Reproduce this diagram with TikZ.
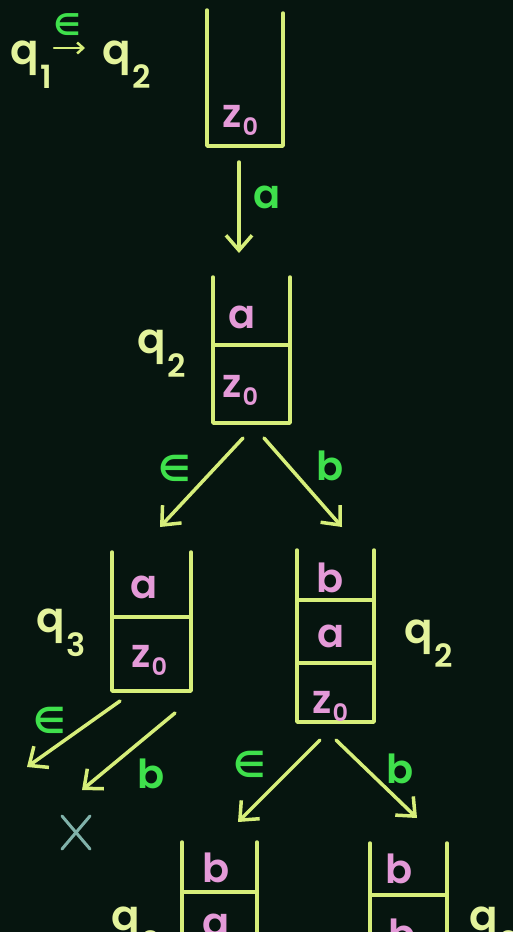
\documentclass[tikz,border=0pt]{standalone}
\usepackage{fontspec}
\setmainfont{Poppins}[BoldFont={Poppins SemiBold}]
\newfontfamily\dv{DejaVu Sans}
\usetikzlibrary{arrows.meta}
\definecolor{bgc}{HTML}{06150F}
\definecolor{linec}{HTML}{D6EE7A}
\definecolor{qc}{HTML}{E3F39C}
\definecolor{pinkc}{HTML}{E49AD8}
\definecolor{greenc}{HTML}{3FE04C}
\definecolor{xc}{HTML}{80B2AA}
\newcommand{\qlabel}[1]{q\kern2pt\raisebox{-24pt}{\fontsize{32}{32}\selectfont #1}}
\newcommand{\zsym}{z\kern1pt\raisebox{-8pt}{\fontsize{24}{24}\selectfont 0}}
\begin{document}
\begin{tikzpicture}[x=1pt,y=-1pt,
  stk/.style={draw=linec,line width=3.5pt,line cap=round,line join=round},
  arr/.style={draw=linec,line width=3.5pt,line cap=round,-{Straight Barb[length=15pt,width=26pt,line width=3.5pt]}},
  qlab/.style={text=qc,font=\bfseries\fontsize{42}{42}\selectfont,inner sep=0pt,anchor=base west},
  cont/.style={text=pinkc,font=\bfseries\fontsize{40}{40}\selectfont,inner sep=0pt,anchor=base},
  zlab/.style={text=pinkc,font=\bfseries\fontsize{40}{40}\selectfont,inner sep=0pt,anchor=base west},
  glab/.style={text=greenc,font=\bfseries\fontsize{40}{40}\selectfont,inner sep=0pt,anchor=base},
  elab/.style={text=greenc,font=\dv\bfseries\fontsize{36}{36}\selectfont,inner sep=0pt,anchor=center}]
\fill[bgc] (0,0) rectangle (513,932);
\useasboundingbox (0,0) rectangle (513,932);
\clip (0,0) rectangle (513,932);

% top transition q1 -e-> q2
\node[qlab] (q1) at (10,64) {\qlabel{1}};
\node[qlab] (q2top) at (102,64) {\qlabel{2}};
\coordinate (ta) at (54,48);
\coordinate (tb) at (85,48);
\draw[draw=linec,line width=2.5pt,line cap=round,-{Straight Barb[length=6pt,width=11pt,line width=2.5pt]}] (ta) -- (tb);
\node[elab,font=\dv\bfseries\fontsize{30}{30}\selectfont] (etop) at (67,25) {∈};

% stack 1
\draw[stk] (207,10) -- (207,146) -- (283,146) -- (283,13);
\node[zlab] (s1z) at (222,127) {\zsym};
\coordinate (s1o) at (239,162);
\coordinate (s2i) at (239,253);
\draw[arr] (s1o) -- (s2i);
\node[glab] (la) at (267,208) {a};

% stack 2
\draw[stk] (213,277) -- (213,423) -- (290,423) -- (290,277);
\draw[stk] (213,345) -- (290,345);
\node[cont] (s2a) at (242,328) {a};
\node[zlab] (s2z) at (222,397) {\zsym};
\node[qlab] (q2b) at (137,353) {\qlabel{2}};
\coordinate (s2l) at (243,438);
\coordinate (s3i) at (160,527);
\coordinate (s2r) at (264,438);
\coordinate (s4i) at (342,527);
\draw[arr] (s2l) -- (s3i);
\draw[arr] (s2r) -- (s4i);
\node[elab] (e2) at (175,468) {∈};
\node[glab] (b2) at (330,480) {b};

% stack 3
\draw[stk] (112,552) -- (112,691) -- (191,691) -- (191,552);
\draw[stk] (112,617) -- (191,617);
\node[cont] (s3a) at (144,598) {a};
\node[zlab] (s3z) at (131,667) {\zsym};
\node[qlab] (q3) at (36,632) {\qlabel{3}};
\coordinate (s3l) at (120,701);
\coordinate (d1) at (27,767);
\coordinate (s3r) at (175,713);
\coordinate (d2) at (82,790);
\draw[arr] (s3l) -- (d1);
\draw[arr] (s3r) -- (d2);
\node[elab] (e3) at (50,720) {∈};
\node[glab] (b3) at (151,788) {b};
\draw[draw=xc,line width=3pt,line cap=round] (62,816) -- (90,849) (90,816) -- (62,849);

% stack 4
\draw[stk] (297,550) -- (297,722) -- (374,722) -- (374,550);
\draw[stk] (297,600) -- (374,600);
\draw[stk] (297,663) -- (374,663);
\node[cont] (s4b) at (330,592) {b};
\node[cont] (s4a) at (331,647) {a};
\node[zlab] (s4z) at (312,713) {\zsym};
\node[qlab] (q4) at (404,643) {\qlabel{2}};
\coordinate (s4l) at (320,740);
\coordinate (s5i) at (238,822);
\coordinate (s4r) at (336,740);
\coordinate (s6i) at (417,818);
\draw[arr] (s4l) -- (s5i);
\draw[arr] (s4r) -- (s6i);
\node[elab] (e4) at (250,764) {∈};
\node[glab] (b4) at (400,783) {b};

% stack 5 (bottom left)
\draw[stk] (182,842) -- (182,960) (257,842) -- (257,960);
\draw[stk] (182,892) -- (257,892);
\node[cont] (s5b) at (216,882) {b};
\node[cont] (s5a) at (216,936) {a};
\node[qlab] (q5) at (111,930) {\qlabel{2}};

% stack 6 (bottom right)
\draw[stk] (370,843) -- (370,960) (447,843) -- (447,960);
\draw[stk] (370,895) -- (447,895);
\node[cont] (s6b) at (399,883) {b};
\node[cont] (s6b2) at (402,948) {b};
\node[qlab] (q6) at (469,930) {\qlabel{2}};
\end{tikzpicture}
\end{document}
